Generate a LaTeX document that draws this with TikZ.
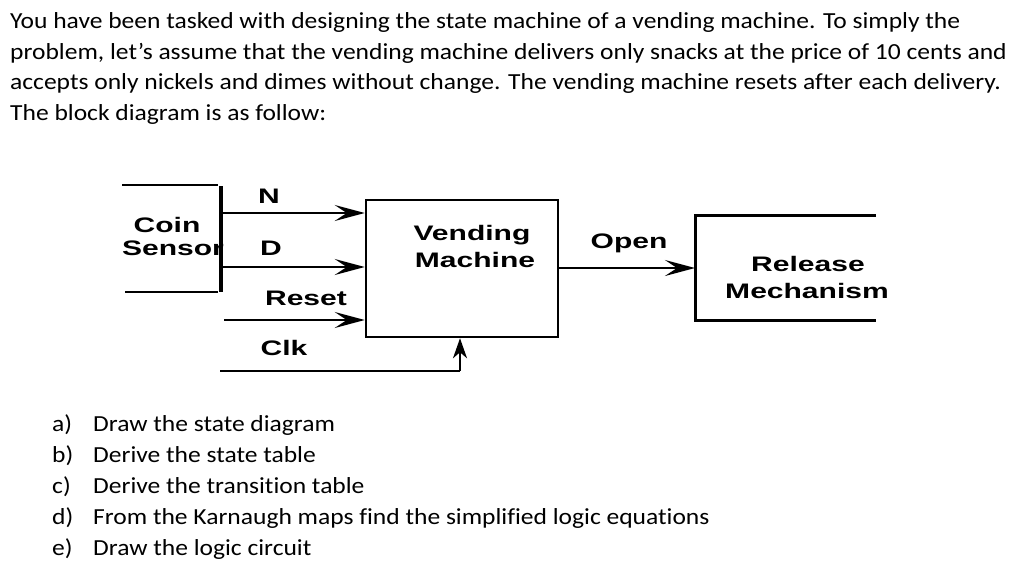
\documentclass[tikz,border=0pt]{standalone}
\usepackage{fontspec}
\setmainfont{Carlito}[Ligatures=NoCommon]
\newfontfamily\arialb{Liberation Sans}[BoldFont={Liberation Sans Bold}]
\usetikzlibrary{arrows.meta}
\tikzset{
  body/.style={anchor=base west, inner sep=0pt, font=\fontsize{23}{27}\selectfont},
  lbl/.style={anchor=base, inner sep=0pt, font=\arialb\bfseries\fontsize{21}{25}\selectfont},
  wire/.style={line width=2pt},
  sig/.style={line width=2pt, -{Stealth[length=30pt,width=16pt,inset=12pt]}},
  clkarrow/.style={line width=2pt, -{Stealth[length=20pt,width=14pt,inset=6pt]}},
}
\newcommand{\wide}[1]{\scalebox{1.43}[1]{#1}}
\newcommand{\bodyw}[1]{\scalebox{1.11}[1]{#1}}
\begin{document}
\begin{tikzpicture}[x=1pt,y=-1pt]
\useasboundingbox (0,0) rectangle (1024,565);
% intro text
\node[body] (t1) at (10,28) {\bodyw{You have been tasked with designing the state machine of a vending machine. To simply the}};
\node[body] (t2) at (10,59) {\bodyw{problem, let’s assume that the vending machine delivers only snacks at the price of 10 cents and}};
\node[body] (t3) at (10,89.5) {\bodyw{accepts only nickels and dimes without change. The vending machine resets after each delivery.}};
\node[body] (t4) at (10,120) {\bodyw{The block diagram is as follow:}};
% coin sensor
\node[lbl] (coin) at (167,232) {\wide{Coin}};
\node[lbl] (sensor) at (173,255) {\wide{Sensor}};
\coordinate (cstl) at (122,185);
\coordinate (cstr) at (218,185);
\coordinate (csbl) at (125,292);
\coordinate (csbr) at (218,292);
\coordinate (bart) at (221,186);
\coordinate (barb) at (221,292);
\draw[wire] (cstl) -- (cstr);
\draw[wire] (csbl) -- (csbr);
\draw[line width=3.5pt] (bart) -- (barb);
% vending machine
\node[draw, line width=2.5pt, minimum width=192pt, minimum height=137pt, inner sep=0pt] (vm) at (462,268.5) {};
\node[lbl] (vend) at (472,240) {\wide{Vending}};
\node[lbl] (mach) at (475,267) {\wide{Machine}};
% inputs
\coordinate (nin) at (222,213);
\coordinate (din) at (222,267);
\coordinate (rin) at (224,320);
\coordinate (cin) at (220,371);
\coordinate (cup) at (460,371);
\draw[sig] (nin) -- (nin -| vm.west);
\draw[sig] (din) -- (din -| vm.west);
\draw[sig] (rin) -- (rin -| vm.west);
\draw[wire] (cin) -- (cup);
\draw[clkarrow] (cup) -- (cup |- vm.south);
\node[lbl] (nl) at (269,203) {\wide{N}};
\node[lbl] (dl) at (271,255) {\wide{D}};
\node[lbl] (rl) at (306,305) {\wide{Reset}};
\node[lbl] (cl) at (284,355) {\wide{Clk}};
% release mechanism
\coordinate (rtr) at (876,215);
\coordinate (rtl) at (695,215);
\coordinate (rbl) at (695,320);
\coordinate (rbr) at (876,320);
\coordinate (ropen) at (695,268);
\draw[line width=3pt] (rtr) -- (rtl) -- (rbl) -- (rbr);
\draw[sig] (vm.east |- ropen) -- (ropen);
\node[lbl] (open) at (629,248) {\wide{Open}};
\node[lbl] (rel) at (808,271) {\wide{Release}};
\node[lbl] (mech) at (807,298) {\wide{Mechanism}};
% questions
\foreach \l/\t [count=\i from 0] in {a)/Draw the state diagram, b)/Derive the state table, c)/Derive the transition table, d)/From the Karnaugh maps find the simplified logic equations, e)/Draw the logic circuit}{
  \node[body] (q\i l) at (52,431+31*\i) {\bodyw{\l}};
  \node[body] (q\i) at (93,431+31*\i) {\bodyw{\t}};
}
\end{tikzpicture}
\end{document}
